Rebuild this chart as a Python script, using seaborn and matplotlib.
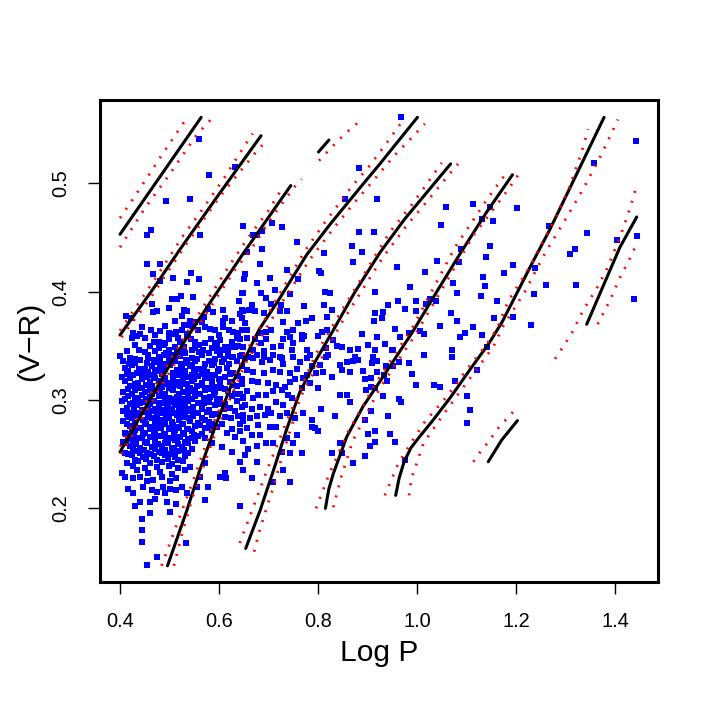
import matplotlib
matplotlib.use("Agg")
import matplotlib.pyplot as plt
import seaborn as sns
import pandas as pd

# ---------------- scatter data (Log P, V-R) ----------------
stars_core = [
    (0.400,0.341),(0.420,0.339),(0.457,0.342),(0.481,0.338),(0.498,0.340),(0.521,0.341),(0.545,0.339),(0.565,0.342),(0.592,0.338),(0.626,0.340),(0.643,0.341),
    (0.407,0.336),(0.431,0.334),(0.441,0.337),(0.471,0.335),(0.488,0.333),(0.511,0.336),(0.535,0.334),(0.552,0.336),(0.572,0.333),(0.606,0.335),(0.636,0.336),
    (0.410,0.330),(0.424,0.332),(0.451,0.329),(0.464,0.331),(0.501,0.332),(0.525,0.330),(0.542,0.331),(0.562,0.329),(0.585,0.332),(0.616,0.330),(0.646,0.331),
    (0.417,0.327),(0.434,0.325),(0.457,0.326),(0.478,0.327),(0.508,0.325),(0.532,0.327),(0.552,0.325),(0.575,0.326),(0.599,0.327),(0.629,0.325),
    (0.404,0.321),(0.427,0.323),(0.454,0.321),(0.468,0.322),(0.491,0.320),(0.515,0.323),(0.538,0.321),(0.558,0.322),(0.572,0.320),(0.592,0.323),(0.612,0.321),(0.639,0.322),
    (0.410,0.318),(0.437,0.316),(0.461,0.317),(0.478,0.318),(0.498,0.316),(0.518,0.317),(0.535,0.315),(0.545,0.318),(0.565,0.316),(0.585,0.318),(0.602,0.316),(0.622,0.317),(0.646,0.315),
    (0.420,0.313),(0.444,0.311),(0.464,0.313),(0.484,0.312),(0.505,0.310),(0.521,0.313),(0.542,0.311),(0.555,0.313),(0.575,0.311),(0.592,0.312),(0.612,0.310),(0.636,0.313),
    (0.407,0.307),(0.431,0.309),(0.451,0.307),(0.471,0.308),(0.491,0.306),(0.508,0.309),(0.528,0.307),(0.545,0.308),(0.562,0.306),(0.572,0.309),(0.592,0.307),(0.619,0.308),(0.643,0.306),
    (0.417,0.304),(0.437,0.302),(0.461,0.303),(0.478,0.304),(0.498,0.302),(0.515,0.303),(0.532,0.301),(0.552,0.304),(0.569,0.302),(0.582,0.303),(0.602,0.301),(0.626,0.304),(0.649,0.302),
    (0.404,0.299),(0.427,0.297),(0.447,0.298),(0.468,0.299),(0.488,0.297),(0.505,0.298),(0.521,0.296),(0.538,0.299),(0.558,0.297),(0.579,0.298),(0.612,0.296),(0.636,0.299),
    (0.414,0.293),(0.434,0.295),(0.457,0.293),(0.478,0.294),(0.495,0.292),(0.511,0.295),(0.528,0.293),(0.548,0.294),(0.565,0.292),(0.592,0.295),(0.622,0.293),(0.646,0.294),
    (0.407,0.290),(0.424,0.288),(0.447,0.289),(0.468,0.290),(0.484,0.288),(0.501,0.289),(0.521,0.287),(0.538,0.290),(0.558,0.288),(0.575,0.289),(0.599,0.287),(0.632,0.290),
    (0.417,0.284),(0.437,0.286),(0.457,0.284),(0.474,0.285),(0.495,0.283),(0.515,0.286),(0.532,0.284),(0.548,0.285),(0.565,0.283),(0.585,0.286),(0.612,0.284),(0.639,0.285),
    (0.407,0.281),(0.431,0.279),(0.451,0.280),(0.471,0.281),(0.488,0.279),(0.505,0.280),(0.525,0.278),(0.542,0.281),(0.558,0.279),(0.579,0.280),(0.606,0.278),(0.649,0.281),
    (0.420,0.276),(0.441,0.274),(0.461,0.275),(0.481,0.276),(0.498,0.274),(0.515,0.275),(0.535,0.273),(0.552,0.276),(0.572,0.274),(0.595,0.275),(0.626,0.273),
    (0.410,0.270),(0.431,0.272),(0.451,0.270),(0.471,0.271),(0.491,0.269),(0.511,0.272),(0.528,0.270),(0.545,0.271),(0.565,0.269),(0.585,0.272),(0.616,0.270),(0.643,0.271),
    (0.417,0.267),(0.437,0.265),(0.461,0.266),(0.481,0.267),(0.501,0.265),(0.521,0.266),(0.538,0.264),(0.558,0.267),(0.572,0.265),(0.632,0.266),
    (0.407,0.261),(0.427,0.263),(0.451,0.261),(0.471,0.262),(0.491,0.260),(0.511,0.263),(0.532,0.261),(0.552,0.262),(0.585,0.260),
    (0.420,0.258),(0.441,0.256),(0.464,0.257),(0.484,0.258),(0.505,0.256),(0.525,0.257),(0.545,0.255),(0.606,0.257),
    (0.410,0.251),(0.434,0.253),(0.454,0.251),(0.478,0.252),(0.498,0.250),(0.518,0.253),(0.538,0.251),(0.626,0.252),
    (0.424,0.249),(0.447,0.247),(0.468,0.248),(0.491,0.249),(0.511,0.247),(0.532,0.248),
    (0.414,0.242),(0.437,0.244),(0.461,0.242),(0.484,0.243),(0.505,0.241),(0.528,0.244),(0.572,0.242),
    (0.427,0.239),(0.451,0.237),(0.474,0.238),(0.498,0.239),(0.518,0.237),(0.542,0.238),
    (0.404,0.233),(0.434,0.235),(0.457,0.233),(0.481,0.234),(0.505,0.232),(0.532,0.235),(0.612,0.233),
]

stars_core_fill = [
    (0.415,0.345),(0.450,0.344),(0.470,0.345),(0.493,0.343),(0.515,0.345),(0.560,0.344),(0.580,0.343),(0.596,0.345),(0.618,0.344),
    (0.430,0.351),(0.460,0.350),(0.488,0.351),(0.530,0.349),(0.560,0.351),(0.595,0.350),(0.632,0.349),
    (0.440,0.361),(0.470,0.360),(0.500,0.362),(0.538,0.361),(0.600,0.360),
    (0.430,0.338),(0.468,0.337),(0.510,0.338),(0.533,0.337),(0.556,0.338),(0.580,0.336),(0.610,0.338),
    (0.419,0.333),(0.455,0.334),(0.480,0.332),(0.500,0.334),(0.524,0.333),(0.545,0.332),(0.590,0.334),(0.620,0.333),
    (0.438,0.329),(0.471,0.328),(0.490,0.329),(0.515,0.328),(0.550,0.329),(0.570,0.328),(0.600,0.329),
    (0.415,0.324),(0.444,0.325),(0.465,0.323),(0.485,0.324),(0.528,0.325),(0.545,0.323),(0.565,0.324),(0.585,0.323),(0.622,0.324),
    (0.420,0.320),(0.445,0.319),(0.470,0.320),(0.508,0.319),(0.527,0.320),(0.550,0.319),(0.578,0.320),(0.600,0.319),
    (0.430,0.315),(0.452,0.314),(0.490,0.315),(0.512,0.314),(0.530,0.315),(0.566,0.314),(0.585,0.315),(0.628,0.314),
    (0.417,0.310),(0.441,0.311),(0.460,0.309),(0.481,0.310),(0.500,0.311),(0.537,0.310),(0.552,0.309),(0.582,0.310),(0.604,0.311),
    (0.425,0.306),(0.444,0.305),(0.465,0.306),(0.485,0.305),(0.520,0.306),(0.538,0.305),(0.556,0.306),(0.590,0.305),(0.632,0.306),
    (0.410,0.301),(0.430,0.300),(0.452,0.301),(0.490,0.300),(0.508,0.301),(0.525,0.300),(0.545,0.301),(0.575,0.300),(0.595,0.301),
    (0.420,0.296),(0.440,0.297),(0.460,0.296),(0.481,0.297),(0.497,0.296),(0.515,0.297),(0.532,0.296),(0.570,0.297),(0.600,0.296),
    (0.428,0.292),(0.445,0.291),(0.470,0.292),(0.488,0.291),(0.505,0.292),(0.520,0.291),(0.540,0.292),(0.580,0.291),(0.610,0.292),
    (0.415,0.287),(0.436,0.288),(0.458,0.287),(0.478,0.288),(0.493,0.287),(0.512,0.288),(0.530,0.287),(0.550,0.288),(0.590,0.287),
    (0.425,0.283),(0.446,0.282),(0.465,0.283),(0.482,0.282),(0.500,0.283),(0.520,0.282),(0.540,0.283),(0.572,0.282),(0.625,0.283),
    (0.414,0.278),(0.430,0.277),(0.452,0.278),(0.470,0.277),(0.490,0.278),(0.508,0.277),(0.528,0.278),(0.562,0.277),(0.585,0.278),
    (0.425,0.273),(0.442,0.274),(0.462,0.273),(0.483,0.274),(0.502,0.273),(0.520,0.274),(0.538,0.273),(0.575,0.274),
    (0.412,0.269),(0.428,0.268),(0.447,0.269),(0.468,0.268),(0.488,0.269),(0.510,0.268),(0.530,0.269),(0.550,0.268),
    (0.421,0.264),(0.444,0.265),(0.470,0.264),(0.493,0.265),(0.515,0.264),(0.545,0.265),
    (0.413,0.260),(0.432,0.259),(0.455,0.260),(0.476,0.259),(0.497,0.260),(0.518,0.259),(0.538,0.260),
    (0.426,0.255),(0.448,0.254),(0.470,0.255),(0.490,0.254),(0.510,0.255),(0.530,0.254),
    (0.416,0.250),(0.440,0.251),(0.462,0.250),(0.485,0.251),(0.505,0.250),
    (0.430,0.245),(0.452,0.246),(0.475,0.245),(0.497,0.246),(0.518,0.245),
]

stars_upper_left = [
    (0.454,0.426),(0.481,0.426),(0.543,0.417),(0.536,0.409),(0.560,0.412),(0.466,0.416),(0.481,0.410),(0.508,0.413),
    (0.464,0.389),(0.466,0.381),(0.474,0.382),(0.500,0.385),(0.505,0.393),(0.515,0.393),(0.523,0.396),(0.547,0.395),
    (0.530,0.383),(0.535,0.382),(0.525,0.378),(0.511,0.373),(0.412,0.378),(0.422,0.376),(0.444,0.367),(0.463,0.365),
    (0.480,0.364),(0.491,0.368),(0.509,0.361),(0.513,0.363),(0.529,0.369),(0.534,0.369),(0.542,0.373),(0.545,0.368),
    (0.526,0.365),(0.518,0.357),(0.498,0.356),(0.491,0.353),(0.478,0.354),(0.468,0.354),(0.451,0.357),(0.434,0.359),
    (0.427,0.362),(0.425,0.357),(0.439,0.346),(0.478,0.348),(0.498,0.346),(0.511,0.349),(0.522,0.354),(0.535,0.359),
    (0.544,0.356),(0.552,0.354),(0.572,0.353),(0.584,0.356),(0.592,0.353),(0.602,0.355),(0.612,0.349),(0.626,0.354),
    (0.636,0.357),(0.643,0.356),(0.585,0.348),(0.567,0.346),(0.552,0.348),(0.545,0.346),(0.532,0.343),(0.521,0.343),
    (0.505,0.342),(0.488,0.342),(0.478,0.340),(0.457,0.339),(0.400,0.341),(0.572,0.367),(0.582,0.366),(0.592,0.365),
    (0.609,0.367),(0.620,0.365),(0.629,0.363),(0.638,0.362),(0.646,0.365),(0.608,0.383),(0.612,0.376),(0.626,0.373),
    (0.643,0.379),(0.646,0.383),(0.641,0.391),(0.646,0.399),(0.653,0.416),(0.609,0.373),(0.569,0.377),(0.577,0.384),
    (0.587,0.381),(0.565,0.372),(0.552,0.372),(0.558,0.365),(0.602,0.342),(0.619,0.341),(0.629,0.340),(0.646,0.342),
    (0.607,0.346),(0.624,0.349),(0.639,0.350),
]

stars_top = [
    (0.560,0.541),(0.632,0.515),(0.580,0.508),(0.493,0.484),(0.541,0.486),(0.463,0.457),(0.454,0.452),(0.562,0.452),
    (0.649,0.461),(0.708,0.463),(0.728,0.460),(0.687,0.456),(0.677,0.452),(0.669,0.452),(0.882,0.455),(0.883,0.514),
    (0.854,0.486),
]

stars_middle = [
    (0.757,0.446),(0.686,0.439),(0.656,0.437),(0.683,0.426),(0.650,0.412),(0.676,0.408),(0.703,0.413),(0.737,0.420),
    (0.760,0.412),(0.802,0.419),(0.807,0.417),(0.814,0.400),(0.824,0.399),(0.812,0.436),(0.868,0.442),(0.870,0.427),
    (0.888,0.437),(0.915,0.400),(0.648,0.399),(0.684,0.399),(0.713,0.402),(0.743,0.398),(0.696,0.394),(0.706,0.389),
    (0.666,0.388),(0.661,0.383),(0.673,0.382),(0.649,0.382),(0.690,0.380),(0.723,0.382),(0.725,0.388),(0.737,0.382),
    (0.772,0.387),(0.813,0.388),(0.828,0.383),(0.819,0.377),(0.787,0.376),(0.775,0.373),(0.760,0.371),(0.730,0.372),
    (0.653,0.371),(0.646,0.376),(0.706,0.365),(0.696,0.363),(0.750,0.365),(0.737,0.363),(0.767,0.360),(0.657,0.365),
    (0.657,0.357),(0.673,0.356),(0.684,0.353),(0.696,0.356),(0.683,0.362),(0.649,0.349),(0.669,0.346),(0.690,0.345),
    (0.710,0.349),(0.725,0.350),(0.730,0.356),(0.743,0.358),(0.750,0.353),(0.747,0.346),(0.767,0.356),(0.772,0.359),
    (0.777,0.346),(0.784,0.342),(0.801,0.359),(0.809,0.363),(0.819,0.365),(0.831,0.355),(0.838,0.350),(0.848,0.349),
    (0.864,0.346),(0.881,0.347),(0.902,0.351),(0.915,0.346),(0.888,0.361),(0.816,0.348),(0.821,0.342),(0.723,0.340),
    (0.710,0.342),(0.676,0.342),(0.659,0.340),(0.690,0.340),(0.875,0.340),(0.912,0.340),
]

stars_lower_middle = [
    (0.653,0.339),(0.669,0.339),(0.686,0.335),(0.703,0.337),(0.727,0.339),(0.730,0.333),(0.750,0.340),(0.764,0.335),
    (0.777,0.339),(0.787,0.331),(0.804,0.332),(0.817,0.340),(0.858,0.335),(0.871,0.336),(0.881,0.337),(0.844,0.332),
    (0.848,0.328),(0.865,0.326),(0.891,0.327),(0.895,0.319),(0.908,0.320),(0.656,0.328),(0.669,0.326),(0.690,0.325),
    (0.710,0.328),(0.723,0.326),(0.743,0.325),(0.757,0.329),(0.753,0.319),(0.770,0.320),(0.777,0.323),(0.797,0.325),
    (0.811,0.326),(0.828,0.321),(0.784,0.316),(0.801,0.311),(0.646,0.319),(0.666,0.318),(0.679,0.317),(0.700,0.316),
    (0.716,0.314),(0.733,0.312),(0.743,0.317),(0.767,0.311),(0.740,0.305),(0.727,0.309),(0.710,0.308),(0.696,0.305),
    (0.679,0.305),(0.656,0.308),(0.649,0.303),(0.669,0.302),(0.653,0.295),(0.666,0.292),(0.683,0.294),(0.700,0.292),
    (0.716,0.298),(0.730,0.295),(0.747,0.302),(0.649,0.286),(0.663,0.283),(0.676,0.285),(0.693,0.286),(0.706,0.288),
    (0.723,0.285),(0.737,0.288),(0.770,0.288),(0.753,0.283),(0.787,0.282),(0.807,0.292),(0.834,0.285),(0.844,0.305),
    (0.858,0.305),(0.865,0.298),(0.898,0.309),(0.908,0.312),(0.895,0.282),(0.902,0.269),(0.787,0.275),(0.794,0.274),
    (0.801,0.271),(0.757,0.268),(0.716,0.275),(0.703,0.275),(0.679,0.277),(0.656,0.274),(0.642,0.278),(0.666,0.268),
    (0.683,0.268),(0.649,0.262),(0.659,0.255),(0.676,0.258),(0.696,0.260),(0.710,0.260),(0.737,0.265),(0.750,0.260),
    (0.727,0.252),(0.743,0.251),(0.767,0.251),(0.653,0.249),(0.642,0.243),(0.649,0.235),(0.676,0.243),(0.730,0.235),
    (0.871,0.242),(0.844,0.260),(0.828,0.251),(0.905,0.258),(0.895,0.248),(0.848,0.251),
]

stars_low = [
    (0.410,0.229),(0.427,0.228),(0.440,0.229),(0.454,0.225),(0.467,0.226),(0.484,0.229),(0.501,0.225),(0.514,0.228),
    (0.417,0.218),(0.427,0.214),(0.447,0.220),(0.464,0.217),(0.474,0.215),(0.487,0.220),(0.491,0.214),(0.501,0.218),
    (0.514,0.217),(0.525,0.220),(0.430,0.202),(0.440,0.206),(0.461,0.206),(0.471,0.209),(0.494,0.206),(0.501,0.197),
    (0.514,0.204),(0.535,0.214),(0.555,0.220),(0.572,0.208),(0.578,0.220),(0.562,0.229),(0.642,0.202),(0.444,0.190),
    (0.461,0.196),(0.445,0.180),(0.444,0.169),(0.533,0.168),(0.474,0.155),(0.454,0.148),(0.602,0.229),(0.615,0.228),
    (0.666,0.228),(0.710,0.224),(0.743,0.224),
]

stars_right_upper = [
    (0.968,0.561),(0.919,0.486),(0.913,0.455),(1.059,0.478),(1.114,0.481),(1.203,0.477),(1.048,0.462),(1.147,0.478),
    (1.131,0.467),(1.154,0.465),(1.266,0.461),(1.357,0.519),(1.442,0.539),(1.343,0.454),(1.319,0.439),(1.310,0.435),
    (1.405,0.448),(1.444,0.451),(1.147,0.442),(1.139,0.432),(1.088,0.439),(1.084,0.427),(1.041,0.428),(0.960,0.423),
    (1.016,0.418),(0.985,0.404),(1.194,0.425),(1.176,0.417),(1.238,0.422),(1.134,0.414),(1.137,0.405),(1.081,0.399),
    (1.130,0.396),(1.162,0.391),(1.072,0.408),(1.038,0.391),(1.026,0.393),(1.018,0.389),(0.998,0.391),(0.998,0.382),
    (0.976,0.384),(0.962,0.391),(0.941,0.388),(0.932,0.381),(0.915,0.380),(0.929,0.376),(0.913,0.373),(0.956,0.366),
    (0.966,0.358),(0.983,0.362),(1.006,0.364),(1.014,0.361),(1.069,0.380),(1.081,0.373),(1.046,0.368),(1.097,0.362),
    (1.087,0.358),(1.114,0.367),(1.131,0.360),(1.155,0.376),(1.194,0.377),(1.237,0.398),(1.261,0.406),(1.322,0.406),
    (1.230,0.369),(1.439,0.393),(0.919,0.358),
]

stars_right_lower = [
    (0.935,0.352),(1.141,0.349),(0.949,0.346),(0.952,0.346),(1.014,0.342),(1.070,0.346),(1.070,0.340),(0.909,0.334),
    (0.919,0.336),(0.937,0.331),(0.952,0.331),(0.964,0.335),(0.984,0.334),(0.920,0.326),(0.933,0.323),(0.939,0.318),
    (0.989,0.324),(0.999,0.314),(1.034,0.314),(1.046,0.312),(1.077,0.318),(1.122,0.328),(0.915,0.311),(0.932,0.304),
    (0.964,0.301),(0.967,0.298),(0.907,0.290),(0.942,0.285),(1.102,0.304),(1.107,0.291),(1.102,0.279),(0.915,0.271),
    (0.945,0.269),(0.915,0.261),(0.956,0.261),(0.976,0.245),
]

# ---------------- ridge curves (solid) and their dotted bounds ----------------
ridge1 = [(0.400,0.453),(0.564,0.561)]
ridge1_up = [(0.400,0.468),(0.440,0.495),(0.487,0.528),(0.536,0.561)]
ridge1_lo = [(0.400,0.441),(0.450,0.477),(0.498,0.507),(0.555,0.545),(0.588,0.561)]

ridge2 = [(0.400,0.360),(0.466,0.402),(0.521,0.439),(0.600,0.490),(0.685,0.544)]
ridge2_up = [(0.400,0.364),(0.474,0.414),(0.528,0.452),(0.565,0.475),(0.612,0.506),(0.642,0.528),(0.668,0.546)]
ridge2_lo = [(0.403,0.358),(0.461,0.394),(0.531,0.442),(0.568,0.466),(0.602,0.488),(0.639,0.509),(0.673,0.528),(0.695,0.539)]

ridge3 = [(0.400,0.252),(0.460,0.300),(0.510,0.340),(0.585,0.392),(0.653,0.438),(0.745,0.498)]
ridge3_up = [(0.400,0.257),(0.510,0.344),(0.560,0.380),(0.622,0.425),(0.656,0.448),(0.700,0.475),(0.731,0.498)]
ridge3_lo = [(0.402,0.250),(0.515,0.337),(0.570,0.377),(0.632,0.420),(0.663,0.438),(0.710,0.471),(0.753,0.497),(0.767,0.504)]

ridge4 = [(0.496,0.147),(0.535,0.198),(0.561,0.235),(0.592,0.275),(0.625,0.314),(0.652,0.338),(0.681,0.365),
          (0.720,0.392),(0.777,0.434),(0.824,0.462),(0.885,0.496),(0.925,0.518),(1.001,0.561)]
ridge4_up = [(0.484,0.147),(0.518,0.189),(0.548,0.226),(0.590,0.280),(0.650,0.341),(0.720,0.396),(0.774,0.438),
             (0.814,0.464),(0.868,0.497),(0.902,0.515),(0.935,0.535),(0.962,0.552),(0.974,0.560)]
ridge4_lo = [(0.509,0.147),(0.526,0.178),(0.548,0.212),(0.596,0.274),(0.655,0.335),(0.724,0.388),(0.784,0.430),
             (0.834,0.460),(0.875,0.483),(0.918,0.506),(0.955,0.526),(0.989,0.542),(1.016,0.555)]

ridge5 = [(0.801,0.529),(0.822,0.540)]
ridge5_lo = [(0.802,0.521),(0.829,0.534),(0.855,0.546),(0.888,0.559)]

ridge6 = [(0.654,0.163),(0.683,0.198),(0.710,0.235),(0.736,0.272),(0.763,0.307),(0.795,0.336),(0.829,0.363),
          (0.875,0.400),(0.925,0.436),(0.975,0.467),(1.026,0.495),(1.068,0.518)]
ridge6_up = [(0.642,0.168),(0.666,0.197),(0.696,0.234),(0.740,0.284),(0.795,0.342),(0.850,0.384),(0.945,0.455),
             (0.989,0.480),(1.016,0.497),(1.050,0.519)]
ridge6_lo = [(0.671,0.160),(0.681,0.178),(0.696,0.200),(0.710,0.220),(0.723,0.241),(0.765,0.303),(0.800,0.333),
             (0.850,0.373),(0.930,0.431),(0.979,0.461),(1.016,0.481),(1.070,0.511),(1.083,0.518)]

ridge7 = [(0.815,0.200),(0.822,0.218),(0.831,0.232),(0.858,0.266),(0.891,0.294),(0.922,0.315),(0.990,0.362),
          (1.040,0.400),(1.087,0.435),(1.140,0.473),(1.193,0.508)]
ridge7_up = [(0.796,0.200),(0.823,0.232),(0.860,0.270),(0.920,0.318),(0.990,0.366),(1.077,0.441),(1.141,0.485),(1.178,0.508)]
ridge7_lo = [(0.831,0.201),(0.847,0.229),(0.870,0.262),(0.925,0.311),(0.995,0.359),(1.114,0.452),(1.174,0.488),(1.205,0.508)]

ridge8 = [(0.957,0.212),(0.964,0.228),(0.974,0.243),(0.988,0.256),(1.005,0.266),(1.030,0.280),(1.067,0.302),
          (1.110,0.330),(1.145,0.352),(1.172,0.372),(1.200,0.397),(1.230,0.424),(1.268,0.457),(1.322,0.508),(1.378,0.561)]
ridge8_up = [(0.935,0.212),(0.962,0.241),(0.989,0.261),(1.016,0.280),(1.060,0.303),(1.097,0.326),(1.137,0.349),
             (1.161,0.365),(1.184,0.391),(1.228,0.423),(1.274,0.463),(1.307,0.495),(1.332,0.528),(1.346,0.550)]
ridge8_lo = [(0.984,0.212),(0.989,0.228),(0.999,0.241),(1.013,0.260),(1.043,0.280),(1.084,0.306),(1.120,0.328),
             (1.154,0.349),(1.174,0.368),(1.218,0.400),(1.258,0.435),(1.295,0.463),(1.336,0.495),(1.374,0.528),(1.406,0.559)]

ridge9 = [(1.144,0.243),(1.171,0.263),(1.203,0.281)]
ridge9_up = [(1.114,0.243),(1.131,0.254),(1.144,0.261),(1.164,0.274),(1.178,0.281),(1.200,0.292)]

ridge10 = [(1.343,0.370),(1.376,0.405),(1.410,0.441),(1.444,0.469)]
ridge10_up = [(1.279,0.338),(1.295,0.349),(1.313,0.362),(1.336,0.383),(1.363,0.403),(1.386,0.423),(1.413,0.454),
              (1.429,0.475),(1.444,0.498)]
ridge10_lo = [(1.365,0.370),(1.390,0.392),(1.411,0.414),(1.435,0.435),(1.444,0.445)]

x_ticks = [0.4, 0.6, 0.8, 1.0, 1.2, 1.4]
y_ticks = [0.2, 0.3, 0.4, 0.5]
x_tick_labels = ["0.4", "0.6", "0.8", "1.0", "1.2", "1.4"]
y_tick_labels = ["0.2", "0.3", "0.4", "0.5"]

# ---------------- drawing ----------------
sns.set_style("white")
plt.rcParams["font.family"] = ["Liberation Sans", "DejaVu Sans"]
plt.rcParams["text.color"] = "black"
plt.rcParams["axes.labelcolor"] = "black"
plt.rcParams["xtick.color"] = "black"
plt.rcParams["ytick.color"] = "black"

fig = plt.figure(figsize=(7.08, 7.08), dpi=100)
ax = fig.add_axes([100 / 708, 126 / 708, 558 / 708, 482 / 708])

star_groups = [stars_core, stars_core_fill, stars_upper_left, stars_top, stars_middle,
               stars_lower_middle, stars_low, stars_right_upper, stars_right_lower]
stars = pd.DataFrame([p for g in star_groups for p in g], columns=["logP", "VR"])
sns.scatterplot(data=stars, x="logP", y="VR", ax=ax, color="#0000ff", marker="s",
                s=13, linewidth=0, zorder=1)


def draw_curve(points, **kws):
    d = pd.DataFrame(points, columns=["logP", "VR"])
    sns.lineplot(data=d, x="logP", y="VR", ax=ax, sort=False, estimator=None, **kws)


for r in [ridge1, ridge2, ridge3, ridge4, ridge5, ridge6, ridge7, ridge8, ridge9, ridge10]:
    draw_curve(r, color="black", linewidth=2.2, zorder=2)

for r in [ridge1_up, ridge1_lo, ridge2_up, ridge2_lo, ridge3_up, ridge3_lo, ridge4_up, ridge4_lo,
          ridge5_lo, ridge6_up, ridge6_lo, ridge7_up, ridge7_lo, ridge8_up, ridge8_lo, ridge9_up,
          ridge10_up, ridge10_lo]:
    draw_curve(r, color="#ff0000", linewidth=2.0, linestyle=(0, (0.7, 3.0)), zorder=3)

ax.set_xlim(0.3596, 1.487)
ax.set_ylim(0.132, 0.577)
ax.set_xticks(x_ticks)
ax.set_yticks(y_ticks)
ax.set_xticklabels(x_tick_labels)
ax.set_yticklabels(y_tick_labels)

for sp in ax.spines.values():
    sp.set_linewidth(2.2)
    sp.set_color("black")
    sp.set_visible(True)

ax.tick_params(axis="both", direction="out", length=8.5, width=1.0, colors="black",
               labelsize=14.4, pad=13, bottom=True, left=True)
for lab in ax.get_yticklabels():
    lab.set_rotation(90)
    lab.set_va("center")

ax.set_xlabel("Log P", fontsize=21.6, labelpad=6, color="black")
ax.set_ylabel("(V\u2212R)", fontsize=21.6, labelpad=5, color="black")

fig.savefig("out.png", dpi=100)
